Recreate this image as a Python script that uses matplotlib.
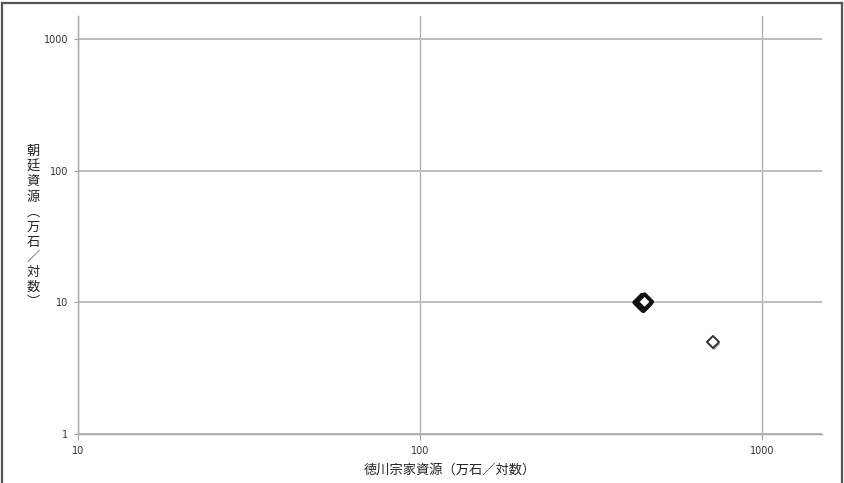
import matplotlib
matplotlib.use('Agg')
import matplotlib.pyplot as plt
import matplotlib.patheffects as pe
from matplotlib.lines import Line2D
from matplotlib.ticker import FixedLocator, FixedFormatter, NullLocator

JP = ['Noto Sans CJK JP', 'DejaVu Sans']

# 徳川宗家 vs 朝廷, 万石
tokugawa = [446, 450, 454, 720]
chotei = [10.0, 9.8, 10.1, 5.0]

xticks = [10, 100, 1000]
yticks = [1, 10, 100, 1000]
xlabel = '徳川宗家資源（万石／対数）'
ylabel = '朝廷資源︵万石／対数︶'

W, H = 844, 483
fig = plt.figure(figsize=(W / 100, H / 100), dpi=100)
ax = fig.add_axes([78 / W, (H - 434) / H, (822 - 78) / W, (434 - 16) / H])

ax.set_xscale('log')
ax.set_yscale('log')
ax.set_xlim(10, 1500)
ax.set_ylim(1, 1500)

ax.xaxis.set_major_locator(FixedLocator(xticks))
ax.xaxis.set_major_formatter(FixedFormatter([str(t) for t in xticks]))
ax.yaxis.set_major_locator(FixedLocator(yticks))
ax.yaxis.set_major_formatter(FixedFormatter([str(t) for t in yticks]))
ax.xaxis.set_minor_locator(NullLocator())
ax.yaxis.set_minor_locator(NullLocator())

ax.xaxis.grid(True, color='#a8a8a8', linewidth=0.9)
ax.yaxis.grid(True, color='#bcbcbc', linewidth=1.4)
ax.set_axisbelow(True)
for side in ['top', 'right']:
    ax.spines[side].set_visible(False)
for side in ['left', 'bottom']:
    ax.spines[side].set_color('#a8a8a8')
    ax.spines[side].set_linewidth(1.0)

ax.tick_params(axis='y', direction='out', length=3, width=0.8,
               color='#a0a0a0', labelsize=7, labelcolor='#333333', pad=4)
ax.tick_params(axis='x', direction='out', length=4, width=0.8,
               color='#a0a0a0', labelsize=7, labelcolor='#333333', pad=5)

shadow = [pe.SimplePatchShadow(offset=(0.8, -1.5), shadow_rgbFace='#777777',
                               alpha=0.6), pe.Normal()]
# dense cluster first, lone point last
ax.scatter(tokugawa[:3], chotei[:3], marker='D', s=60, facecolor='white',
           edgecolor='#111111', linewidth=2.8, zorder=3, path_effects=shadow)
ax.scatter(tokugawa[3:], chotei[3:], marker='D', s=38, facecolor='white',
           edgecolor='#333333', linewidth=1.4, zorder=3, path_effects=shadow)

ax.set_xlabel(xlabel, family=JP, fontsize=9.5, color='#222222', labelpad=5)

# vertical (tategaki) y label, one glyph per line
fig.text(33 / W, 1 - 227 / H, '\n'.join(ylabel), family=JP, fontsize=9.5,
         color='#222222', ha='center', va='center', linespacing=1.2)

# outer frame
for xs, ys in [([2, 2], [0, H - 3]), ([2, W - 2], [H - 3, H - 3]),
               ([W - 2, W - 2], [0, H - 3])]:
    fig.add_artist(Line2D([x / W for x in xs], [y / H for y in ys],
                          color='#555555', linewidth=1.6,
                          transform=fig.transFigure))

fig.savefig('out.png', dpi=100)
